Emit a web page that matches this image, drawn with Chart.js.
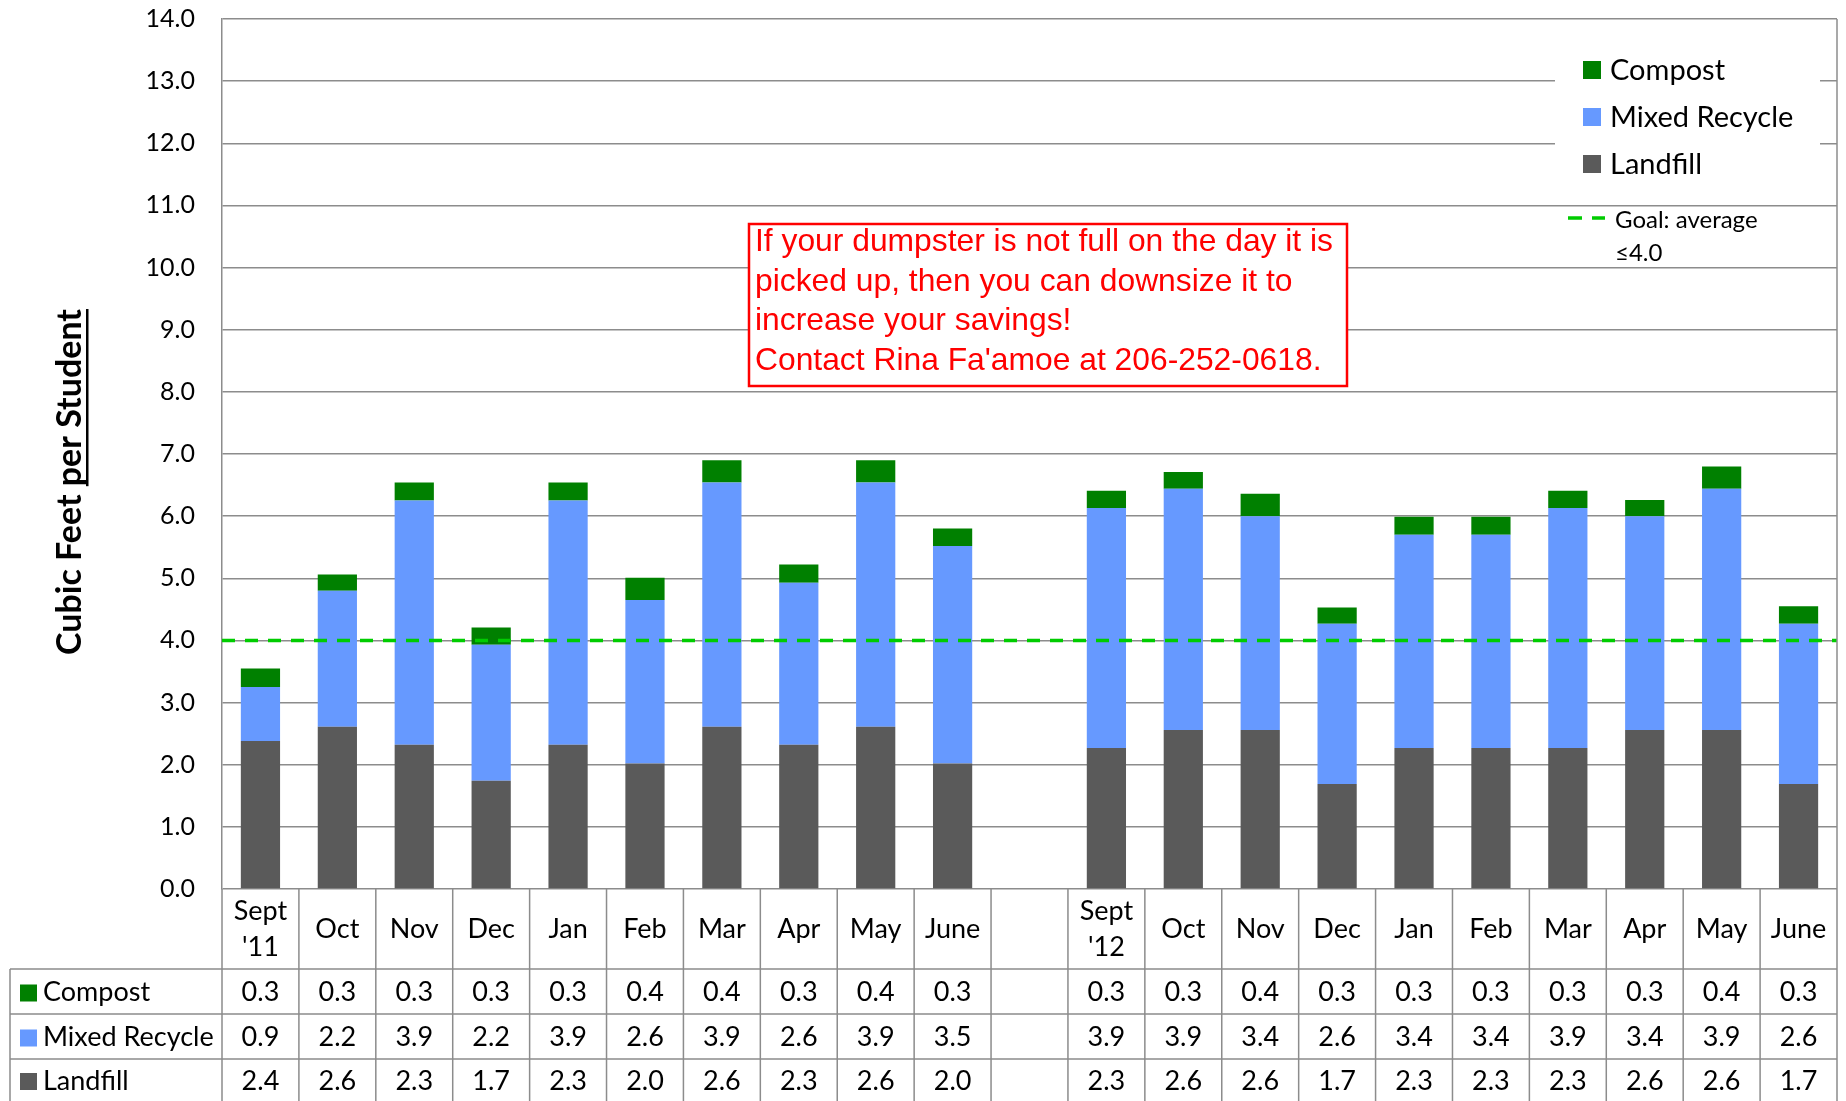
<!DOCTYPE html>
<html><head><meta charset="utf-8">
<script src="https://cdn.jsdelivr.net/npm/chart.js@4/dist/chart.umd.min.js"></script>
<style>html,body{margin:0;padding:0;background:#fff;}#wrap{width:1846px;height:1101px;position:relative;}</style>
</head><body><div id="wrap"><canvas id="c" width="1846" height="1101"></canvas></div>
<script>
// ---------- data ----------
const categories = [["Sept","'11"],"Oct","Nov","Dec","Jan","Feb","Mar","Apr","May","June","",["Sept","'12"],"Oct","Nov","Dec","Jan","Feb","Mar","Apr","May","June"];
const compost      = [0.30,0.26,0.29,0.28,0.29,0.36,0.36,0.29,0.36,0.28,null,0.28,0.27,0.36,0.26,0.29,0.29,0.28,0.26,0.36,0.28];
const mixedRecycle = [0.87,2.19,3.93,2.19,3.93,2.63,3.93,2.61,3.93,3.50,null,3.86,3.88,3.44,2.58,3.43,3.43,3.86,3.44,3.88,2.58];
const landfill     = [2.38,2.61,2.32,1.74,2.32,2.02,2.61,2.32,2.61,2.02,null,2.27,2.56,2.56,1.69,2.27,2.27,2.27,2.56,2.56,1.69];
const goalValue = 4.0;
const yMin = 0, yMax = 14, yStep = 1;
const seriesNames = ["Compost","Mixed Recycle","Landfill"];
const goalLabel = ["Goal: average","\u22644.0"];
const yTitleA = "Cubic Feet ", yTitleB = "per Student";
const noteLines = ["If your dumpster is not full on the day it is","picked up, then you can downsize it to","increase your savings!","Contact Rina Fa'amoe at 206-252-0618."];

// ---------- styles ----------
const COL = {compost:'#008000', mixed:'#6699ff', landfill:'#5a5a5a', goal:'#00cc00', grid:'#8c8c8c'};
const FONT = "Lato, 'Open Sans', 'DejaVu Sans', sans-serif";

const deco = {
  id:'deco',
  afterDatasetsDraw(chart){
    const {ctx, chartArea:a, scales:{y}} = chart;
    const gy = y.getPixelForValue(goalValue);
    ctx.save();
    ctx.strokeStyle = COL.goal; ctx.lineWidth = 3.5; ctx.setLineDash([13,10]);
    ctx.beginPath(); ctx.moveTo(a.left, gy); ctx.lineTo(a.right, gy); ctx.stroke();
    ctx.restore();
  },
  afterDraw(chart){
    const {ctx, chartArea:a, scales:{x,y}} = chart;
    ctx.save();
    // right border
    ctx.strokeStyle = COL.grid; ctx.lineWidth = 1.5;
    ctx.beginPath(); ctx.moveTo(a.right, a.top); ctx.lineTo(a.right, a.bottom); ctx.stroke();

    // legend box
    ctx.fillStyle = '#fff'; ctx.fillRect(1555, 45, 265, 145);
    const sw = [COL.compost, COL.mixed, COL.landfill];
    ctx.font = "29px " + FONT; ctx.textBaseline = 'middle'; ctx.textAlign = 'left';
    seriesNames.forEach((nm,i)=>{
      const cy = 70 + i*47;
      ctx.fillStyle = sw[i]; ctx.fillRect(1583, cy-9, 18, 18);
      ctx.fillStyle = '#000'; ctx.fillText(nm, 1610, cy+1);
    });
    // goal legend
    ctx.strokeStyle = COL.goal; ctx.lineWidth = 3.5;
    ctx.beginPath(); ctx.moveTo(1568,218); ctx.lineTo(1582,218); ctx.moveTo(1592,218); ctx.lineTo(1605,218); ctx.stroke();
    ctx.fillStyle = '#000'; ctx.font = "24px " + FONT;
    ctx.fillText(goalLabel[0], 1615, 220);
    ctx.fillText(goalLabel[1], 1615, 253);

    // note box
    ctx.fillStyle = '#fff'; ctx.fillRect(749, 224, 598, 162);
    ctx.strokeStyle = '#ff0000'; ctx.lineWidth = 2.5; ctx.strokeRect(749, 224, 598, 162);
    ctx.font = "32px 'Liberation Sans', Arial, sans-serif";
    ctx.fillStyle = '#ff0000'; ctx.textBaseline = 'alphabetic';
    const sx = 578 / ctx.measureText(noteLines[0]).width;
    noteLines.forEach((ln,i)=>{
      ctx.save(); ctx.translate(755, 251 + i*39.7); ctx.scale(sx,1); ctx.fillText(ln, 0, 0); ctx.restore();
    });

    // y title
    ctx.save();
    ctx.translate(70, 482); ctx.rotate(-Math.PI/2);
    ctx.font = "bold 34px " + FONT; ctx.fillStyle = '#000'; ctx.textBaseline = 'middle'; ctx.textAlign = 'left';
    const wA = ctx.measureText(yTitleA).width, wB = ctx.measureText(yTitleB).width;
    const W = wA + wB, x0 = -W/2;
    ctx.fillText(yTitleA + yTitleB, x0, 0);
    ctx.fillRect(x0 + wA, 16, wB, 2.5);
    ctx.restore();

    // data table
    const n = categories.length;
    const half = (x.getPixelForValue(1) - x.getPixelForValue(0)) / 2;
    const edges = [];
    for (let i=0;i<n;i++) edges.push(x.getPixelForValue(i) - half);
    edges.push(x.getPixelForValue(n-1) + half);
    const hTop = a.bottom, hBot = x.bottom, rowH = 45, tLeft = 10;
    const rowsY = [hBot, hBot+rowH, hBot+2*rowH, chart.height+2];
    ctx.strokeStyle = COL.grid; ctx.lineWidth = 1.5;
    ctx.beginPath();
    edges.forEach(ex=>{ ctx.moveTo(ex, hTop); ctx.lineTo(ex, chart.height); });
    ctx.moveTo(tLeft, hBot); ctx.lineTo(tLeft, chart.height);
    for (let r=0;r<3;r++){ ctx.moveTo(tLeft, rowsY[r]); ctx.lineTo(a.right, rowsY[r]); }
    ctx.stroke();
    const rows = [compost, mixedRecycle, landfill];
    ctx.font = "27px " + FONT; ctx.textBaseline = 'middle';
    rows.forEach((vals,r)=>{
      const cy = (rowsY[r] + Math.min(rowsY[r+1], chart.height)) / 2 + 1;
      ctx.fillStyle = sw[r]; ctx.fillRect(20, cy-8, 17, 17);
      ctx.fillStyle = '#000'; ctx.textAlign = 'left'; ctx.fillText(seriesNames[r], 43, cy);
      ctx.textAlign = 'center';
      vals.forEach((v,i)=>{ if (v!==null) ctx.fillText(v.toFixed(1), x.getPixelForValue(i), cy); });
    });
    ctx.restore();
  }
};

new Chart(document.getElementById('c'), {
  type:'bar',
  data:{
    labels: categories,
    datasets:[
      {label:seriesNames[2], data:landfill, backgroundColor:COL.landfill},
      {label:seriesNames[1], data:mixedRecycle, backgroundColor:COL.mixed},
      {label:seriesNames[0], data:compost, backgroundColor:COL.compost}
    ]
  },
  options:{
    responsive:false, animation:false,
    layout:{padding:{top:19, right:9, bottom:132, left:0}},
    datasets:{bar:{categoryPercentage:1, barPercentage:0.51}},
    plugins:{legend:{display:false}, tooltip:{enabled:false}},
    scales:{
      x:{stacked:true, grid:{display:false}, border:{display:false},
         afterFit(ax){ ax.height = 80; },
         ticks:{color:'#000', font:{family:FONT, size:27, lineHeight:1.35}, padding:14, crossAlign:'center', maxRotation:0, autoSkip:false}},
      y:{stacked:true, min:yMin, max:yMax,
         afterFit(ax){ ax.width = 222; },
         grid:{color:COL.grid, lineWidth:1.5, drawTicks:true, tickLength:27, tickColor:'rgba(0,0,0,0)'},
         border:{display:true, color:COL.grid, width:1.5},
         ticks:{stepSize:yStep, padding:0, color:'#000', font:{family:FONT, size:25}, callback:v=>v.toFixed(1)}}
    }
  },
  plugins:[deco]
});
</script></body></html>
